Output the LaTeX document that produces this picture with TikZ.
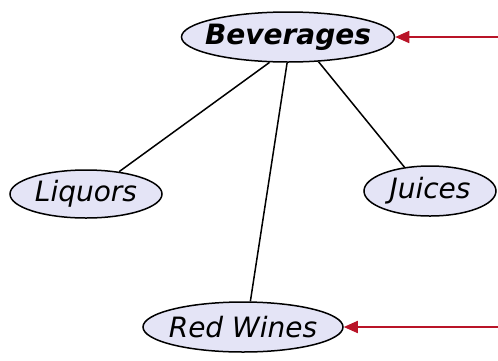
\documentclass[tikz,border=0pt]{standalone}
\usepackage{fontspec}
\setmainfont{DejaVu Sans}
\usetikzlibrary{shapes.geometric,arrows.meta}
\definecolor{conceptfill}{RGB}{228,228,246}
\definecolor{linkred}{RGB}{185,20,40}
\tikzset{
  concept/.style={ellipse, draw=black, line width=1.5pt, fill=conceptfill,
    inner xsep=-20pt, inner ysep=0pt, font=\fontsize{28}{30}\selectfont\itshape},
  link/.style={draw=black, line width=1.5pt},
  pointer/.style={draw=linkred, line width=1.7pt,
    -{Triangle[length=14pt,width=12pt]}}
}
\begin{document}
\begin{tikzpicture}[x=1pt,y=-1pt]
  \useasboundingbox (0,0) rectangle (498,360);
  \node[concept, minimum width=213pt, minimum height=50pt,
        font=\fontsize{28}{30}\selectfont\bfseries\itshape] (bev) at (288,37) {Beverages};
  \node[concept, minimum width=152pt, minimum height=48pt] (liq) at (86,194) {Liquors};
  \node[concept, minimum width=132pt, minimum height=50pt] (jui) at (430,191) {Juices};
  \node[concept, minimum width=200pt, minimum height=50pt] (red) at (243,327) {Red Wines};

  \draw[link] (bev.234) -- (liq.34);
  \draw[link] (bev.268) -- (red.74);
  \draw[link] (bev.321) -- (jui.137);

  \coordinate (inBev) at (498,37);
  \coordinate (inRed) at (498,327);
  \draw[pointer] (inBev) -- (bev);
  \draw[pointer] (inRed) -- (red);
\end{tikzpicture}
\end{document}
